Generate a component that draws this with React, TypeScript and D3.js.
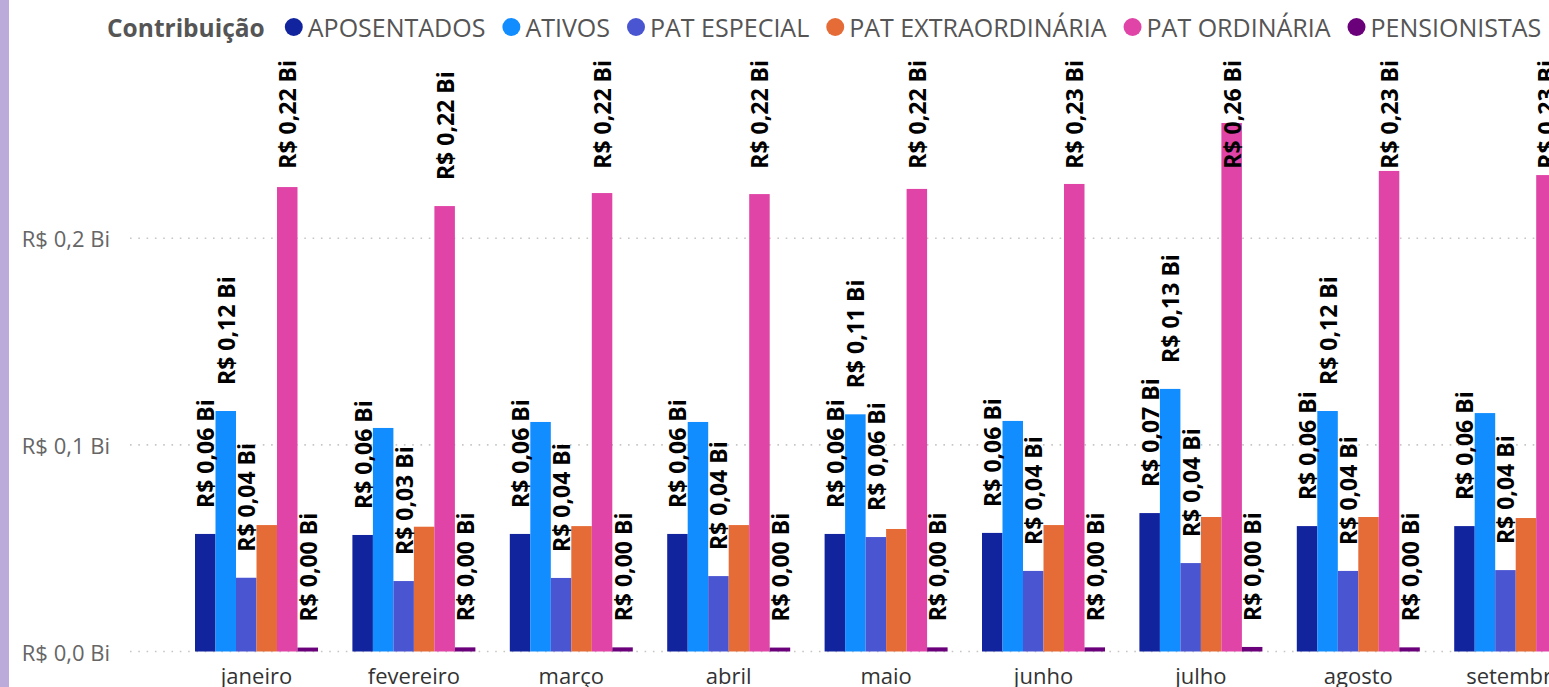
import React, { useEffect, useRef } from 'react';
import * as d3 from 'd3';

const months = ['janeiro', 'fevereiro', 'março', 'abril', 'maio', 'junho', 'julho', 'agosto', 'setembro'];
const seriesNames = ['APOSENTADOS', 'ATIVOS', 'PAT ESPECIAL', 'PAT EXTRAORDINÁRIA', 'PAT ORDINÁRIA', 'PENSIONISTAS'];
const seriesColors = ['#12239E', '#118DFF', '#4A55D1', '#E66C37', '#E044A7', '#6B007B'];

// values in R$ bilhões
const aposentados = [0.0569, 0.0564, 0.0569, 0.0569, 0.0569, 0.0574, 0.0670, 0.0607, 0.0607];
const ativos = [0.1164, 0.1082, 0.1111, 0.1111, 0.1148, 0.1116, 0.1271, 0.1164, 0.1154];
const patEspecial = [0.0357, 0.0341, 0.0356, 0.0365, 0.0554, 0.0390, 0.0428, 0.0390, 0.0394];
const patExtraordinaria = [0.0612, 0.0604, 0.0607, 0.0612, 0.0593, 0.0612, 0.0651, 0.0651, 0.0646];
const patOrdinaria = [0.2248, 0.2156, 0.2219, 0.2214, 0.2239, 0.2263, 0.2558, 0.2326, 0.2306];
const pensionistas = [0.0019, 0.0020, 0.0020, 0.0019, 0.0020, 0.0020, 0.0022, 0.0020, 0.0020];

const yTicks = [0, 0.1, 0.2];
const legendTitle = 'Contribuição';

// which months show a data label, per series (as in the original visual)
const labelledMonths = [
  months,
  ['janeiro', 'maio', 'julho', 'agosto'],
  months,
  [] as string[],
  months,
  months,
];

const W = 1549;
const H = 687;
const FONT = "'Open Sans', 'Segoe UI', sans-serif";

export default function App() {
  const ref = useRef<SVGSVGElement>(null);

  useEffect(() => {
    const svg = d3.select(ref.current);
    svg.selectAll('*').remove();

    const seriesValues = [aposentados, ativos, patEspecial, patExtraordinaria, patOrdinaria, pensionistas];

    // left accent strip
    svg.append('rect').attr('x', 0).attr('y', 0).attr('width', 9).attr('height', H).attr('fill', '#baabdb');

    const y = d3.scaleLinear().domain([0, 0.2]).range([651.5, 238.3]);
    const step = 157.4;
    const pInner = 0.2186;
    const pOuter = 0.413;
    const x0Start = 130;
    const x = d3
      .scaleBand<string>()
      .domain(months)
      .range([x0Start, x0Start + step * (months.length - pInner + 2 * pOuter)])
      .paddingInner(pInner)
      .paddingOuter(pOuter);
    const x1 = d3.scaleBand<string>().domain(seriesNames).range([0, x.bandwidth()]).padding(0);

    // gridlines + y tick labels
    const fmtTick = (v: number) => 'R$ ' + d3.format('.1f')(v).replace('.', ',') + ' Bi';
    const grid = svg.append('g');
    yTicks.forEach((t) => {
      grid
        .append('line')
        .attr('x1', 130)
        .attr('x2', W)
        .attr('y1', y(t))
        .attr('y2', y(t))
        .attr('stroke', '#c8c6c4')
        .attr('stroke-width', 1.6)
        .attr('stroke-dasharray', '1.6 6.7');
      grid
        .append('text')
        .attr('x', 110)
        .attr('y', y(t))
        .attr('text-anchor', 'end')
        .attr('dominant-baseline', 'central')
        .attr('font-family', FONT)
        .attr('font-size', 22)
        .attr('fill', '#666')
        .text(fmtTick(t));
    });

    // bars
    const bars = svg.append('g');
    months.forEach((m, i) => {
      seriesNames.forEach((s, j) => {
        const v = seriesValues[j][i];
        bars
          .append('rect')
          .attr('x', (x(m) as number) + (x1(s) as number))
          .attr('y', y(v))
          .attr('width', x1.bandwidth())
          .attr('height', y(0) - y(v))
          .attr('fill', seriesColors[j]);
      });
    });

    // data labels
    const fmtLabel = (v: number) => 'R$ ' + d3.format('.2f')(v).replace('.', ',') + ' Bi';
    const labels = svg.append('g');
    const topLimit = 60;
    months.forEach((m, i) => {
      seriesNames.forEach((s, j) => {
        if (!labelledMonths[j].includes(m)) return;
        const v = seriesValues[j][i];
        const cx = (x(m) as number) + (x1(s) as number) + x1.bandwidth() / 2;
        const t = labels
          .append('text')
          .attr('font-family', FONT)
          .attr('font-weight', 700)
          .attr('font-size', 23)
          .attr('fill', '#000')
          .attr('text-anchor', 'start')
          .attr('dominant-baseline', 'central')
          .text(fmtLabel(v));
        const len = (t.node() as SVGTextElement).getComputedTextLength();
        const bottom = Math.max(y(v) - 26, topLimit + len);
        t.attr('transform', `translate(${cx},${bottom}) rotate(-90)`);
      });
    });

    // x axis labels
    const xl = svg.append('g');
    months.forEach((m) => {
      xl.append('text')
        .attr('x', (x(m) as number) + x.bandwidth() / 2)
        .attr('y', 675)
        .attr('text-anchor', 'middle')
        .attr('dominant-baseline', 'central')
        .attr('font-family', FONT)
        .attr('font-size', 22)
        .attr('fill', '#333')
        .text(m);
    });

    // legend
    const lg = svg.append('g');
    const ly = 27;
    const title = lg
      .append('text')
      .attr('x', 107)
      .attr('y', ly)
      .attr('dominant-baseline', 'central')
      .attr('font-family', FONT)
      .attr('font-weight', 700)
      .attr('font-size', 24.5)
      .attr('fill', '#555')
      .text(legendTitle);
    let cursor = 107 + (title.node() as SVGTextElement).getComputedTextLength() + 20;
    seriesNames.forEach((s, j) => {
      lg.append('circle').attr('cx', cursor + 9).attr('cy', ly).attr('r', 9).attr('fill', seriesColors[j]);
      const tx = lg
        .append('text')
        .attr('x', cursor + 23)
        .attr('y', ly)
        .attr('dominant-baseline', 'central')
        .attr('font-family', FONT)
        .attr('font-size', 25)
        .attr('fill', '#555')
        .text(s);
      cursor += 23 + (tx.node() as SVGTextElement).getComputedTextLength() + 17;
    });
  }, []);

  return (
    <svg
      ref={ref}
      width={W}
      height={H}
      style={{ position: 'fixed', left: 0, top: 0, background: '#fff', display: 'block' }}
    />
  );
}
